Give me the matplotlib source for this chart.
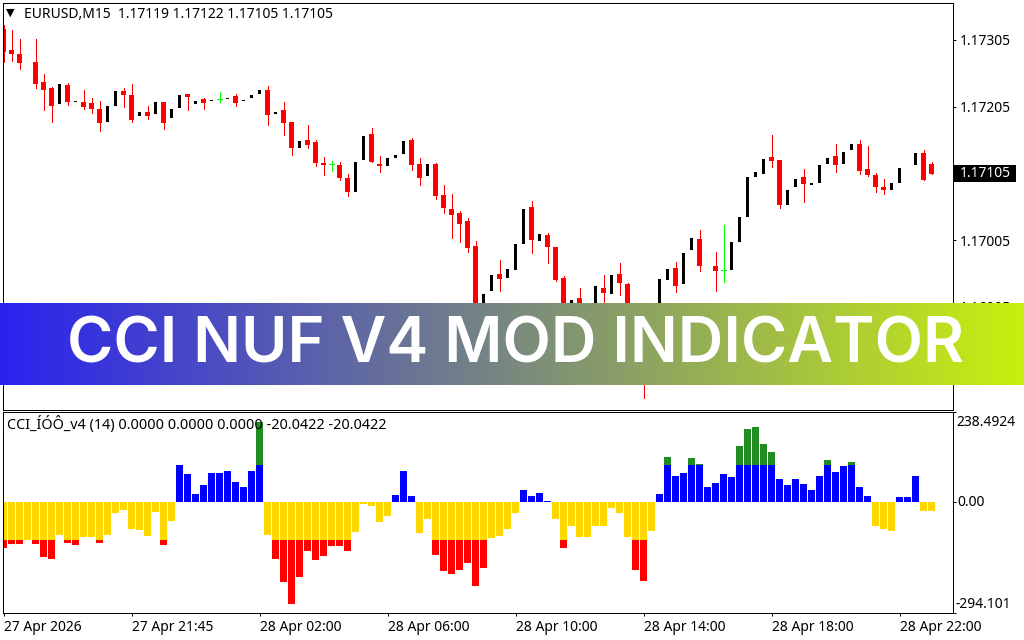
import numpy as np
import matplotlib
matplotlib.use("Agg")
import matplotlib.pyplot as plt
from matplotlib.patches import Rectangle

nan = float("nan")

# candle prices, last five digits of 1.xxxxx
open_pts = [17322,17289.5,17283.5,nan,17271.5,17241.5,17232.5,17208.5,17237,17212,
    17211.5,17210,17201,17181.5,17205.5,17228,17222,17190.5,17196.5,17193.5,
    17211.5,17187.5,17202.5,17223.5,17208.5,17216,17213,17217,17216,17220.5,
    17213,17217.5,17223.5,17229.5,17193.5,17199.5,17181.5,17142.5,17154.5,17151.5,
    17120,17118.5,17117,17097.5,17076.5,17124.5,17163.5,17118.5,17115.5,17127.5,
    17133.5,17154.5,17118.5,17100.5,17118.5,17072,17051,17045,17033,16995.5,
    16902.5,16928,16953.5,16947.5,16959.5,16998.5,17054,17003,17012,16994,
    16947.5,16892,16917.5,nan,16899.5,16932.5,16923.5,16953.5,16938.5,nan,
    16884.5,nan,16899.5,16944.5,16962.5,16938.5,16989.5,17006,nan,16965.5,
    16959.5,16959.5,17001.5,17039,17099,17103.5,17129,17124.5,17057,17084,
    17099,17087,17090,17118.5,17130.5,17118.5,17139.5,17148.5,17111,17102,
    17084,17079.5,17090,nan,17117,17135,17118.5]
close_pts = [17287,17284,17270,nan,17239,17229.5,17205.5,17238.5,17211.5,17213.5,
    17204,17201,17180,17205.5,17228,17222,17184.5,17196.5,17190.5,17211.5,
    17180,17201,17222,17219,17213,17210,17214.5,17217,17217.5,17210,
    17214.5,17222,17229.5,17192,17196.5,17180,17142.5,17153,17147,17120,
    17117,17118.5,17097.5,17076.5,17121.5,17160.5,17121.5,17115.5,17127.5,17132,
    17153,17117,17097.5,17118.5,17070.5,17052.5,17042,17028.5,16992.5,16899.5,
    16923.5,16952,16946,16961,16998.5,17051,17004.5,17013.5,16994,16944.5,
    16892,16914.5,16896.5,nan,16935.5,16925,16952,16940,16887.5,nan,
    16839.5,nan,16946,16961,16935.5,16985,17007.5,16965.5,nan,16958,
    16959.5,17001.5,17039,17099,17106.5,17126,17123,17057,17079.5,17096,
    17088.5,17090,17117,17127.5,17117,17136.5,17148.5,17108,17102,17084,
    17079.5,17090,17112.5,nan,17135,17094.5,17103.5]
high_pts = [17327,17320,17306,nan,17306,17253.5,17234,nan,17240,nan,
    17229.5,17217.5,17213,nan,nan,17232.5,17238.5,nan,17205.5,nan,
    17211.5,nan,nan,17223.5,nan,17217.5,nan,17226.5,nan,17223.5,
    nan,nan,nan,17235.5,nan,17211.5,17181.5,nan,17177,17154.5,
    17129,17123,17121.5,17103.5,nan,nan,17172.5,17130.5,nan,nan,
    nan,17157.5,17127.5,nan,17120,17087,17073.5,17048,17037.5,17003,
    nan,nan,16974.5,nan,nan,nan,17063,nan,17015,16994,
    16950.5,nan,16932.5,nan,nan,16952,nan,16970,16940,nan,
    16899.5,nan,nan,nan,16971.5,nan,nan,17019.5,nan,16986.5,
    17027,nan,nan,nan,nan,nan,17162,17124.5,nan,nan,
    17111,nan,nan,nan,17148.5,nan,nan,17154.5,17145.5,17105,
    17096,nan,nan,nan,nan,17139.5,17121.5]
low_pts = [17272,17273,17261,nan,17232.5,17199.5,17181.5,nan,17207,nan,
    17201,17195,17168,nan,nan,17204,17181.5,nan,17186,nan,
    17171,nan,nan,17199.5,nan,17201,nan,17211.5,nan,17205.5,
    nan,nan,nan,17177,nan,17162,17132,nan,17142.5,17115.5,
    17102,17108,17094.5,17070.5,nan,nan,17121.5,17106.5,nan,nan,
    nan,17109.5,17087,nan,17066,17045,17007.5,17001.5,16986.5,16887.5,
    nan,nan,16928,nan,nan,nan,16985,nan,16970,16943,
    16884.5,nan,16884.5,nan,nan,16899.5,nan,16922,16869.5,nan,
    16767.5,nan,nan,nan,16926.5,nan,nan,16958,nan,16928,
    16941.5,nan,nan,nan,nan,nan,17114,17052.5,nan,nan,
    17061.5,nan,nan,nan,17106.5,nan,nan,17103.5,17100.5,17076.5,
    17073.5,nan,nan,nan,nan,17094.5,17103.5]

# indicator values
cci = [-120.6,-111,-111,-98,-111,-145,-150,-87,-106,-113.5,
    -92,-92,-108,-87,-29,-21,-71,-74,-90,-26,
    -113.5,-50,98,74,21,45,76.5,76.5,82,53,
    40,82,211,-87,-150,-211,-269,-198,-129,-153,
    -142.5,-116,-116,-129,-79,-3,-10.5,-53,-37,18.5,
    82,16,-82,-45,-140,-182,-190,-179.5,-161,-222,
    -174,-95,-90,-71,-29,34,16,24,2.5,-45,
    -121,-63,-92,-92,-61,-63,-16,-29,-92,-179.5,
    -208.5,-76.5,21,119,68.6,76.5,116,102,40,50,
    74,66,148,193,198,153,132,61,45,61,
    47.5,34,71,111,79,95,105.6,40,16,-63,
    -69,-76.5,13,13,71,-24,-24]

price_ticks = [1.17305, 1.17205, 1.17005, 1.16905]
last_price = 1.17105
time_tick_bars = [0, 16, 32, 48, 64, 80, 96, 112]
time_labels = ["27 Apr 2026", "27 Apr 21:45", "28 Apr 02:00", "28 Apr 06:00",
               "28 Apr 10:00", "28 Apr 14:00", "28 Apr 18:00", "28 Apr 22:00"]
cci_tick_labels = ["238.4924", "0.00", "-294.101"]

W, H = 1024, 640
FONT = "Noto Sans"
FS = 10


def px_rect(left, top, right, bottom):
    return [left / W, 1 - bottom / H, (right - left) / W, (bottom - top) / H]


def put(x, y, s, **kw):
    kw.setdefault("fontsize", FS)
    kw.setdefault("family", FONT)
    kw.setdefault("color", "black")
    fig.text(x / W, 1 - y / H, s, va="center", **kw)


fig = plt.figure(figsize=(W / 100, H / 100), dpi=100, facecolor="white")
ax = fig.add_axes(px_rect(2.5, 2.5, 952.5, 409.5))
sub = fig.add_axes(px_rect(2.5, 411.5, 952.5, 613))

o = 1 + np.array(open_pts) / 1e5
c = 1 + np.array(close_pts) / 1e5
hi = 1 + np.array(high_pts) / 1e5
lo = 1 + np.array(low_pts) / 1e5
x = np.arange(len(o))
v = np.array(cci)

# price panel
bear = c < o
bull = c > o
doji = c == o
ax.vlines(x[bear], lo[bear], hi[bear], color="#ff0000", lw=0.72, antialiased=False)
ax.bar(x[bear], (o - c)[bear], bottom=c[bear], width=0.625, color="#ff0000", linewidth=0)
ax.bar(x[bull], (c - o)[bull], bottom=o[bull], width=0.375, color="black", linewidth=0)
ax.vlines(x[doji], lo[doji], hi[doji], color="#00ff00", lw=0.72, antialiased=False)
ax.hlines(c[doji], x[doji] - 0.3, x[doji] + 0.3, color="#00ff00", lw=0.72, antialiased=False)
ax.set_xlim(-0.125, 118.625)
ax.set_ylim(1.16751, 1.17361)
ax.set_xticks([])
ax.yaxis.tick_right()
ax.set_yticks(price_ticks + [last_price])
ax.set_yticklabels(["%.5f" % p for p in price_ticks] + [""], fontsize=FS, family=FONT)
ax.tick_params(axis="y", length=2.2, width=0.72, pad=2.8)

# indicator panel
sub.bar(x, np.clip(v, 0, 100), width=0.875, color="#0000ff", linewidth=0)
sub.bar(x, np.clip(v - 100, 0, None), bottom=100, width=0.875, color="#228b22", linewidth=0)
sub.bar(x, np.clip(v, -100, 0), width=0.875, color="#ffd700", linewidth=0)
sub.bar(x, np.clip(v + 100, None, 0), bottom=-100, width=0.875, color="#ff0000", linewidth=0)
sub.set_xlim(-0.125, 118.625)
sub.set_ylim(-292, 240)
sub.yaxis.tick_right()
sub.set_yticks([-292, 0, 240])
sub.set_yticklabels([])
sub.tick_params(axis="y", length=2.2, width=0.72)
sub.set_xticks(time_tick_bars)
sub.set_xticklabels(time_labels, ha="left", fontsize=FS, family=FONT)
sub.tick_params(axis="x", length=2.2, width=0.72, pad=3)

for a in (ax, sub):
    for s in a.spines.values():
        s.set_linewidth(0.72)

# header text
put(6, 13, "▼", fontsize=8, family="DejaVu Sans")
put(24.5, 14, "EURUSD,M15  1.17119 1.17122 1.17105 1.17105")
put(7, 424, "CCI_ÍÓÔ_v4 (14) 0.0000 0.0000 0.0000 -20.0422 -20.0422", fontsize=10.4)

# last price box
fig.add_artist(Rectangle((954 / W, 1 - 182 / H), 62 / W, 17 / H, transform=fig.transFigure,
                         facecolor="black", edgecolor="none"))
put(959.5, 173.5, "%.5f" % last_price, color="white")

put(956, 422, cci_tick_labels[0])
put(957, 503, cci_tick_labels[1])
put(956, 604, cci_tick_labels[2])

# banner on top
band = fig.add_axes(px_rect(0, 303, 1024, 385), zorder=10)
left_col = np.array([42, 34, 240]) / 255
right_col = np.array([200, 240, 14]) / 255
t = np.linspace(0, 1, 512)[None, :, None]
band.imshow(left_col + (right_col - left_col) * t, aspect="auto", extent=(0, 1, 0, 1))
band.set_axis_off()
band.text(515.5 / 1024, 0.47, "CCI NUF V4 MOD INDICATOR", transform=band.transAxes, ha="center",
          va="center", color="white", family="Inter", fontweight="semibold", fontsize=45.4)

fig.savefig("out.png", dpi=100)
